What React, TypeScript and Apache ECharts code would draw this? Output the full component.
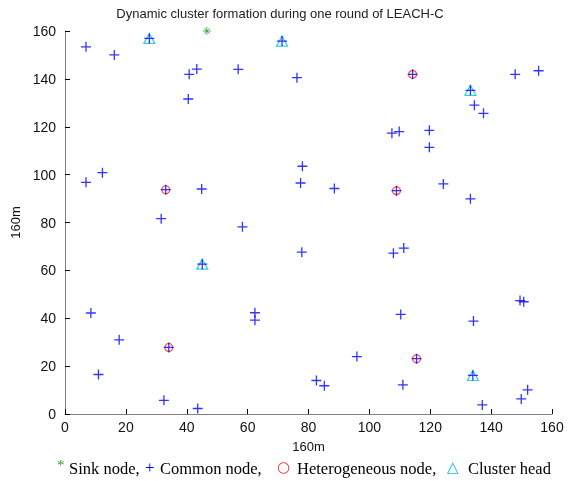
import React, { useEffect, useRef } from "react";
import * as echarts from "echarts";

const chartTitle = "Dynamic cluster formation during one round of LEACH-C";
const xAxisName = "160m";
const yAxisName = "160m";

const sinkNode: number[][] = [[46.6, 160]];

const clusterHeads: number[][] = [
  [27.7, 156.9], [71.3, 155.8], [133.2, 135.2], [45.1, 62.6], [134.0, 16.1],
];

const heterogeneousNodes: number[][] = [
  [114.2, 141.9], [33.1, 93.7], [108.9, 93.3], [34.1, 27.8], [115.5, 23.1],
];

const commonNodes: number[][] = [
  [6.9, 153.4], [16.2, 150.0], [43.3, 144.1], [40.8, 141.9], [40.5, 131.6],
  [56.9, 144.0], [76.2, 140.5], [147.9, 141.9], [155.6, 143.4], [134.5, 129.0],
  [137.5, 125.6], [107.4, 117.3], [109.8, 118.0], [119.7, 118.5], [119.7, 111.4],
  [6.9, 96.8], [12.3, 100.8], [44.9, 94.0], [31.6, 81.6], [78.0, 103.5],
  [77.4, 96.5], [88.5, 94.2], [58.3, 78.2], [77.8, 67.6], [124.3, 96.1],
  [133.2, 89.9], [107.9, 67.2], [111.3, 69.3], [8.5, 42.2], [17.8, 31.0],
  [11.0, 16.5], [32.5, 5.7], [43.6, 2.3], [62.4, 42.3], [62.4, 39.2],
  [95.9, 24.0], [82.6, 14.0], [85.2, 11.8], [149.5, 47.4], [150.7, 46.9],
  [110.3, 41.6], [134.2, 38.8], [111.0, 12.2], [152.0, 10.1], [149.9, 6.3],
  [137.1, 3.8],
];

const legendItems = [
  { symbol: "*", label: "Sink node," },
  { symbol: "+", label: "Common node," },
  { symbol: "○", label: "Heterogeneous node," },
  { symbol: "△", label: "Cluster head" },
];

const PLUS = "path://M0,5 L10,5 M5,0 L5,10";
const STAR = "path://M0,5 L10,5 M5,0 L5,10 M1.5,1.5 L8.5,8.5 M8.5,1.5 L1.5,8.5";

const BLUE = "#0000ff";
const GREEN = "#2e9e2e";
const RED = "#ff2020";
const CYAN = "#00c0d8";

export default function App() {
  const ref = useRef<HTMLDivElement>(null);
  useEffect(() => {
    const chart = echarts.init(ref.current!, null, { renderer: "svg" });
    const axisCommon = {
      type: "value",
      min: 0,
      max: 160,
      interval: 20,
      splitLine: { show: false },
      axisLine: { show: true, lineStyle: { color: "#808080", width: 1 } },
      axisTick: { show: true, inside: true, length: 5, lineStyle: { color: "#000" } },
      axisLabel: { color: "#111", fontFamily: "Liberation Sans", fontSize: 14 },
      nameLocation: "middle",
      nameTextStyle: { color: "#111", fontFamily: "Liberation Sans", fontSize: 13 },
    };
    const legendX = [57, 69, 145, 160, 277, 297, 447, 468];
    const legendColors = [GREEN, BLUE, RED, CYAN];
    const symbolFonts = [
      "15px 'Liberation Serif'",
      "17px 'Liberation Serif'",
      "15px 'DejaVu Sans'",
      "15px 'DejaVu Sans'",
    ];
    const graphics: any[] = [
      {
        type: "text",
        x: 280,
        y: 13,
        style: {
          text: chartTitle,
          font: "13px 'Liberation Sans'",
          fill: "#222",
          align: "center",
          verticalAlign: "middle",
        },
      },
    ];
    legendItems.forEach((it, i) => {
      graphics.push({
        type: "text",
        x: legendX[i * 2],
        y: i === 0 ? 465 : 467,
        style: {
          text: it.symbol,
          font: symbolFonts[i],
          fill: legendColors[i],
          verticalAlign: "middle",
        },
      });
      graphics.push({
        type: "text",
        x: legendX[i * 2 + 1],
        y: 468,
        style: {
          text: it.label,
          font: "16.5px 'Liberation Serif'",
          fill: "#000",
          verticalAlign: "middle",
        },
      });
    });

    chart.setOption({
      animation: false,
      grid: { left: 65, top: 31, width: 487, height: 383, containLabel: false },
      xAxis: { ...axisCommon, name: xAxisName, nameGap: 26, axisLabel: { ...axisCommon.axisLabel, margin: 6 } },
      yAxis: { ...axisCommon, name: yAxisName, nameGap: 38, nameRotate: 90, axisLabel: { ...axisCommon.axisLabel, margin: 9 } },
      graphic: graphics,
      series: [
        {
          type: "scatter",
          data: clusterHeads,
          symbol: "triangle",
          symbolSize: [11, 10],
          clip: false,
          itemStyle: { color: "transparent", borderColor: CYAN, borderWidth: 1.2 },
        },
        {
          type: "scatter",
          data: heterogeneousNodes,
          symbol: "circle",
          symbolSize: 8,
          clip: false,
          itemStyle: { color: "transparent", borderColor: RED, borderWidth: 1.2 },
        },
        {
          type: "scatter",
          data: [...commonNodes, ...clusterHeads, ...heterogeneousNodes],
          symbol: PLUS,
          symbolSize: 10,
          clip: false,
          itemStyle: { color: "transparent", borderColor: BLUE, borderWidth: 1.3 },
        },
        {
          type: "scatter",
          data: sinkNode,
          symbol: STAR,
          symbolSize: 8,
          clip: false,
          itemStyle: { color: "transparent", borderColor: GREEN, borderWidth: 1 },
        },
      ],
    });
    return () => chart.dispose();
  }, []);
  return (
    <div
      ref={ref}
      style={{ position: "fixed", left: 0, top: 0, width: 571, height: 481 }}
    />
  );
}
